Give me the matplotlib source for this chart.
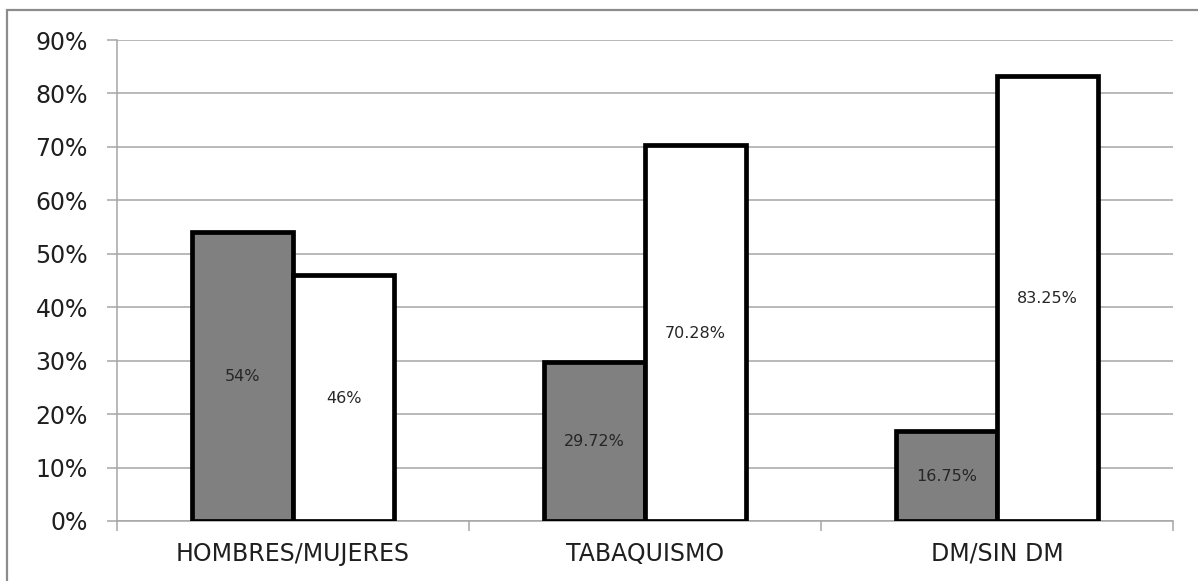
import matplotlib.pyplot as plt
import matplotlib.patches as mpatches
from matplotlib.ticker import FuncFormatter, FixedLocator
import numpy as np

# Datos del gráfico
categorias = ["HOMBRES/MUJERES", "TABAQUISMO", "DM/SIN DM"]
serie_gris = [54, 29.72, 16.75]
serie_blanca = [46, 70.28, 83.25]
etiquetas_gris = ["54%", "29.72%", "16.75%"]
etiquetas_blanca = ["46%", "70.28%", "83.25%"]

plt.rcParams['font.family'] = ['DejaVu Sans']

fig = plt.figure(figsize=(11.98, 5.81), dpi=100)
ax = fig.add_axes([117 / 1198, 1 - 521 / 581, (1173 - 117) / 1198, (521 - 40) / 581])

# marco exterior del gráfico
marco = mpatches.Rectangle((7 / 1198, -0.1), 1.2, 1 - 10 / 581 + 0.1,
                           transform=fig.transFigure, fill=False,
                           edgecolor="#8c8c8c", linewidth=1.6, zorder=0)
fig.patches.append(marco)

x = np.arange(len(categorias))
ancho = 0.287

barras1 = ax.bar(x - ancho / 2, serie_gris, ancho, color="#808080",
                 edgecolor="black", linewidth=3.4, zorder=3)
barras2 = ax.bar(x + ancho / 2, serie_blanca, ancho, color="white",
                 edgecolor="black", linewidth=3.4, zorder=3)

for barra, texto in zip(barras1, etiquetas_gris):
    ax.text(barra.get_x() + barra.get_width() / 2, barra.get_height() / 2, texto,
            ha="center", va="center", fontsize=11.5, color="#262626", zorder=4)
for barra, texto in zip(barras2, etiquetas_blanca):
    ax.text(barra.get_x() + barra.get_width() / 2, barra.get_height() / 2, texto,
            ha="center", va="center", fontsize=11.5, color="#262626", zorder=4)

ax.set_xlim(-0.5, len(categorias) - 0.5)
ax.set_ylim(0, 90)
ax.set_yticks(np.arange(0, 91, 10))
ax.yaxis.set_major_formatter(FuncFormatter(lambda v, p: f"{v:.0f}%"))
ax.yaxis.grid(True, color="#a6a6a6", linewidth=1.1, zorder=0)

# ticks del eje x en los límites de cada categoría
ax.xaxis.set_major_locator(FixedLocator([-0.5, 0.5, 1.5, 2.5]))
ax.xaxis.set_minor_locator(FixedLocator(x))
ax.set_xticklabels([])
ax.set_xticklabels(categorias, minor=True)
ax.tick_params(axis="x", which="major", length=7, width=1.1, color="#a6a6a6")
ax.tick_params(axis="x", which="minor", length=0, pad=15, labelsize=17, labelcolor="#1f1f1f")
ax.tick_params(axis="y", length=7, width=1.1, color="#a6a6a6", pad=14,
               labelsize=17, labelcolor="#1f1f1f")

for lado in ["top", "right"]:
    ax.spines[lado].set_visible(False)
for lado in ["left", "bottom"]:
    ax.spines[lado].set_color("#a6a6a6")
    ax.spines[lado].set_linewidth(1.1)

fig.savefig("out.png", dpi=100)
